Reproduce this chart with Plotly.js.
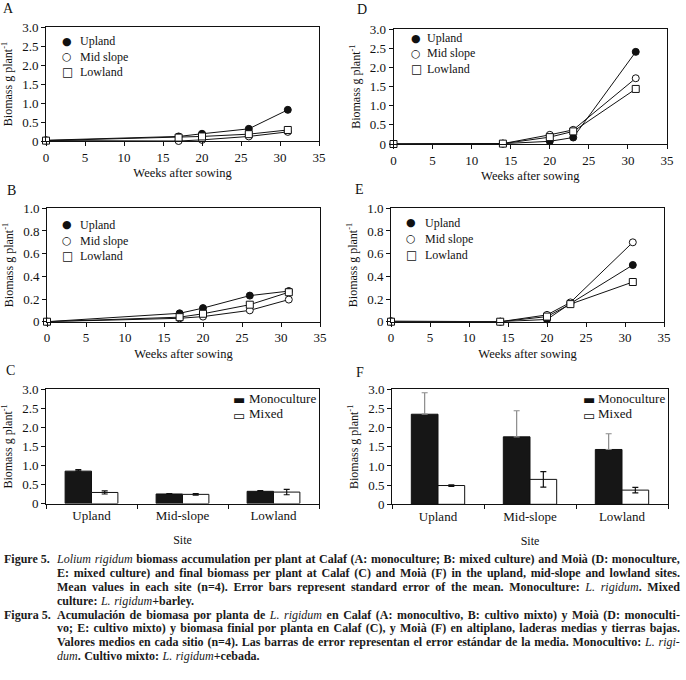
<!DOCTYPE html>
<html>
<head>
<meta charset="utf-8">
<script src="https://cdn.plot.ly/plotly-3.0.1.min.js"></script>
<style>
  body { margin: 0; background: #fff; }
  #wrap { position: relative; width: 686px; height: 680px; overflow: hidden; background: #fff; }
  #chart { position: absolute; left: 0; top: 0; width: 686px; height: 680px; }
  #caption { position: absolute; left: 0; top: 553px; width: 686px;
    font-family: "Liberation Serif", serif; font-size: 12px; font-weight: bold; color: #1a1a1a; }
  .para { position: relative; }
  .label { position: absolute; left: 4px; top: 0; line-height: 13.9px; }
  .ln { margin-left: 57px; width: 623px; height: 13.9px; line-height: 13.9px; display: flex; white-space: nowrap; }
  .ln.j { justify-content: space-between; }
  .ln.l { justify-content: flex-start; gap: 3.5px; }
  i { font-weight: normal; }
</style>
</head>
<body>
<div id="wrap">
  <div id="chart"></div>
  <div id="caption"></div>
</div>
<script>
// ---------- data ----------
const weeksCalaf = [0, 17, 20, 26, 31];
const weeksMoia  = [0, 14, 20, 23, 31];

// A: Calaf monoculture
const calafMonoUpland   = [0.02, 0.12, 0.19, 0.32, 0.82];
const calafMonoMidSlope = [0.01, 0.00, 0.03, 0.12, 0.24];
const calafMonoLowland  = [0.01, 0.09, 0.12, 0.18, 0.29];
// B: Calaf mixed culture
const calafMixUpland    = [0.00, 0.074, 0.12, 0.23, 0.27];
const calafMixMidSlope  = [0.00, 0.03, 0.045, 0.10, 0.195];
const calafMixLowland   = [0.00, 0.04, 0.07, 0.15, 0.26];
// D: Moià monoculture
const moiaMonoUpland    = [0.00, 0.01, 0.07, 0.17, 2.41];
const moiaMonoMidSlope  = [0.00, 0.01, 0.24, 0.37, 1.72];
const moiaMonoLowland   = [0.00, 0.01, 0.18, 0.33, 1.44];
// E: Moià mixed culture
const moiaMixUpland     = [0.00, 0.00, 0.02, 0.16, 0.50];
const moiaMixMidSlope   = [0.005, 0.00, 0.06, 0.17, 0.70];
const moiaMixLowland    = [0.00, 0.00, 0.045, 0.155, 0.35];

// C and F: final biomass
const sites = ["Upland", "Mid-slope", "Lowland"];
const calafFinalMono    = [0.85, 0.25, 0.32];
const calafFinalMonoErr = [0.04, 0.01, 0.02];
const calafFinalMix     = [0.29, 0.24, 0.30];
const calafFinalMixErr  = [0.04, 0.02, 0.07];
const moiaFinalMono     = [2.35, 1.76, 1.43];
const moiaFinalMonoErr  = [0.56, 0.68, 0.41];
const moiaFinalMix      = [0.49, 0.65, 0.37];
const moiaFinalMixErr   = [0.02, 0.20, 0.07];
const noLowerErr        = [0, 0, 0];

const seriesNames = ["Upland", "Mid slope", "Lowland"];
const seriesGlyphs = ["●", "○", "□"];
const barNames = ["Monoculture", "Mixed"];
const barGlyphs = ["▬", "▭"];
const weekTicks = [0, 5, 10, 15, 20, 25, 30, 35];
const tickVals3 = [0, 0.5, 1, 1.5, 2, 2.5, 3];
const tickText3 = ["0", "0.5", "1.0", "1.5", "2.0", "2.5", "3.0"];
const tickVals1 = [0, 0.2, 0.4, 0.6, 0.8, 1];
const tickText1 = ["0", "0.2", "0.4", "0.6", "0.8", "1.0"];
const panelLabels = ["A", "B", "C", "D", "E", "F"];
const xTitleWeeks = "Weeks after sowing";
const xTitleSite = "Site";
const yTitle = "Biomass g plant<sup>-1</sup>";

// ---------- styles ----------
const FONT = "Liberation Serif";
const SYMFONT = "DejaVu Sans";
const W = 686, H = 680;
const markerStyles = [
  { symbol: "circle", size: 7, color: "#111", line: { color: "#111", width: 1 } },
  { symbol: "circle", size: 7, color: "#fff", line: { color: "#111", width: 1 } },
  { symbol: "square", size: 7, color: "#fff", line: { color: "#111", width: 1 } }
];

function px2x(a, b) { return [a / W, b / W]; }
function px2y(top, bottom) { return [1 - bottom / H, 1 - top / H]; }

const traces = [];
function lineSet(xs, ys3, n) {
  const xa = n === 1 ? "x" : "x" + n;
  const ya = n === 1 ? "y" : "y" + n;
  ys3.forEach((ys, i) => {
    traces.push({
      type: "scatter", mode: "lines+markers", x: xs, y: ys, xaxis: xa, yaxis: ya,
      line: { color: "#111", width: 1 }, marker: markerStyles[i],
      cliponaxis: false, showlegend: false, name: seriesNames[i], hoverinfo: "skip"
    });
  });
}
function barSet(mono, monoErr, mix, mixErr, n, monoErrColor) {
  const xa = "x" + n, ya = "y" + n;
  traces.push({
    type: "bar", x: sites, y: mono, xaxis: xa, yaxis: ya, name: barNames[0], showlegend: false,
    marker: { color: "#161616", line: { color: "#111", width: 1 } },
    error_y: { type: "data", array: monoErr, arrayminus: noLowerErr, symmetric: false,
               color: monoErrColor, thickness: 1.2, width: 3 },
    cliponaxis: false, hoverinfo: "skip"
  });
  traces.push({
    type: "bar", x: sites, y: mix, xaxis: xa, yaxis: ya, name: barNames[1], showlegend: false,
    marker: { color: "#fff", line: { color: "#111", width: 1 } },
    error_y: { type: "data", array: mixErr, symmetric: true, color: "#111", thickness: 1.2, width: 3 },
    cliponaxis: false, hoverinfo: "skip"
  });
}

lineSet(weeksCalaf, [calafMonoUpland, calafMonoMidSlope, calafMonoLowland], 1);
lineSet(weeksCalaf, [calafMixUpland, calafMixMidSlope, calafMixLowland], 2);
barSet(calafFinalMono, calafFinalMonoErr, calafFinalMix, calafFinalMixErr, 3, "#111");
lineSet(weeksMoia, [moiaMonoUpland, moiaMonoMidSlope, moiaMonoLowland], 4);
lineSet(weeksMoia, [moiaMixUpland, moiaMixMidSlope, moiaMixLowland], 5);
barSet(moiaFinalMono, moiaFinalMonoErr, moiaFinalMix, moiaFinalMixErr, 6, "#8a8a8a");

// ---------- axes ----------
function baseAxis(extra) {
  return Object.assign({
    showline: true, linecolor: "#111", linewidth: 1, mirror: true,
    ticks: "outside", ticklen: 4, tickwidth: 1, tickcolor: "#111",
    showgrid: false, zeroline: false, automargin: false, fixedrange: true,
    tickfont: { family: FONT, size: 13, color: "#111" }
  }, extra);
}
function weekAxis(dom, anchor) {
  return baseAxis({ domain: dom, anchor: anchor, range: [0, 35], tickmode: "array", tickvals: weekTicks,
    title: { text: xTitleWeeks, font: { family: FONT, size: 12.5, color: "#111" }, standoff: 4 } });
}
function siteAxis(dom, anchor) {
  return baseAxis({ domain: dom, anchor: anchor, type: "category", tickson: "boundaries",
    tickfont: { family: FONT, size: 13, color: "#111" },
    title: { text: xTitleSite, font: { family: FONT, size: 12, color: "#111" }, standoff: 13 } });
}
function valAxis(dom, anchor, big) {
  return baseAxis({ domain: dom, anchor: anchor, range: big ? [0, 3] : [0, 1], tickmode: "array",
    tickvals: big ? tickVals3 : tickVals1, ticktext: big ? tickText3 : tickText1,
    title: { text: yTitle, font: { family: FONT, size: 12, color: "#111" }, standoff: 6 } });
}

const domA = { x: px2x(46, 319), y: px2y(27, 141) };
const domB = { x: px2x(47, 320), y: px2y(208.3, 321.7) };
const domC = { x: px2x(46, 319), y: px2y(389.3, 503.5) };
const domD = { x: px2x(393.5, 667), y: px2y(29.3, 144) };
const domE = { x: px2x(391, 664), y: px2y(208.3, 321.7) };
const domF = { x: px2x(392, 668), y: px2y(389.3, 504.3) };

function paperAnn(text, px, py, xanchor, family, size) {
  return { text: text, x: px / W, y: 1 - py / H, xref: "paper", yref: "paper",
    showarrow: false, xanchor: xanchor, yanchor: "middle",
    font: { family: family, size: size, color: "#111" } };
}

const annotations = [];
[[8, 9], [11, 190], [10, 371], [362, 10], [360, 189], [360, 372]].forEach((p, i) => {
  annotations.push(paperAnn(panelLabels[i], p[0], p[1], "center", FONT, 14));
});
// legends for the line panels: [symbol x, text x, first row y, row step]
[[67, 78, 41, 15.5], [67, 78, 225, 15.5], [416, 425, 38, 15.5], [411, 423, 223, 16]].forEach(L => {
  seriesNames.forEach((nm, i) => {
    const y = L[2] + i * L[3];
    annotations.push(paperAnn(seriesGlyphs[i], L[0], y, "center", SYMFONT, i === 2 ? 12 : 11));
    annotations.push(paperAnn(nm, L[1], y, "left", FONT, 12));
  });
});
// legends for the bar panels
[[239, 247, 398, 16], [589, 596, 398, 16]].forEach(L => {
  barNames.forEach((nm, i) => {
    const y = L[2] + i * L[3];
    annotations.push(paperAnn(barGlyphs[i], L[0], y + 1, "center", SYMFONT, 13));
    annotations.push(paperAnn(nm, L[1], y, "left", FONT, 13));
  });
});

const layout = {
  width: W, height: H, margin: { l: 0, r: 0, t: 0, b: 0 },
  paper_bgcolor: "#fff", plot_bgcolor: "rgba(0,0,0,0)",
  font: { family: FONT, color: "#111" }, showlegend: false,
  barmode: "group", bargap: 0.42, bargroupgap: 0,
  xaxis: weekAxis(domA.x, "y"), yaxis: valAxis(domA.y, "x", true),
  xaxis2: weekAxis(domB.x, "y2"), yaxis2: valAxis(domB.y, "x2", false),
  xaxis3: siteAxis(domC.x, "y3"), yaxis3: valAxis(domC.y, "x3", true),
  xaxis4: weekAxis(domD.x, "y4"), yaxis4: valAxis(domD.y, "x4", true),
  xaxis5: weekAxis(domE.x, "y5"), yaxis5: valAxis(domE.y, "x5", false),
  xaxis6: siteAxis(domF.x, "y6"), yaxis6: valAxis(domF.y, "x6", true),
  annotations: annotations
};

Plotly.newPlot("chart", traces, layout, { staticPlot: true, displayModeBar: false });

// ---------- caption ----------
const captionEn = [
  "<i>Lolium</i> <i>rigidum</i> biomass accumulation per plant at Calaf (A: monoculture; B: mixed culture) and Moià (D: monoculture,",
  "E: mixed culture) and final biomass per plant at Calaf (C) and Moià (F) in the upland, mid-slope and lowland sites.",
  "Mean values in each site (n=4). Error bars represent standard error of the mean. Monoculture: <i>L.</i> <i>rigidum</i>. Mixed",
  "culture: <i>L.</i> <i>rigidum</i>+barley."
];
const captionEs = [
  "Acumulación de biomasa por planta de <i>L.</i> <i>rigidum</i> en Calaf (A: monocultivo, B: cultivo mixto) y Moià (D: monoculti-",
  "vo; E: cultivo mixto) y biomasa finial por planta en Calaf (C), y Moià (F) en altiplano, laderas medias y tierras bajas.",
  "Valores medios en cada sitio (n=4). Las barras de error representan el error estándar de la media. Monocultivo: <i>L.</i> <i>rigi-</i>",
  "<i>dum</i>. Cultivo mixto: <i>L.</i> <i>rigidum</i>+cebada."
];
function buildPara(label, lines) {
  const p = document.createElement("div");
  p.className = "para";
  const lb = document.createElement("div");
  lb.className = "label";
  lb.textContent = label;
  p.appendChild(lb);
  lines.forEach((ln, i) => {
    const d = document.createElement("div");
    d.className = "ln " + (i === lines.length - 1 ? "l" : "j");
    ln.split(" ").forEach(w => {
      const s = document.createElement("span");
      s.innerHTML = w;
      d.appendChild(s);
    });
    p.appendChild(d);
  });
  return p;
}
const cap = document.getElementById("caption");
cap.appendChild(buildPara("Figure 5.", captionEn));
cap.appendChild(buildPara("Figura 5.", captionEs));
</script>
</body>
</html>
